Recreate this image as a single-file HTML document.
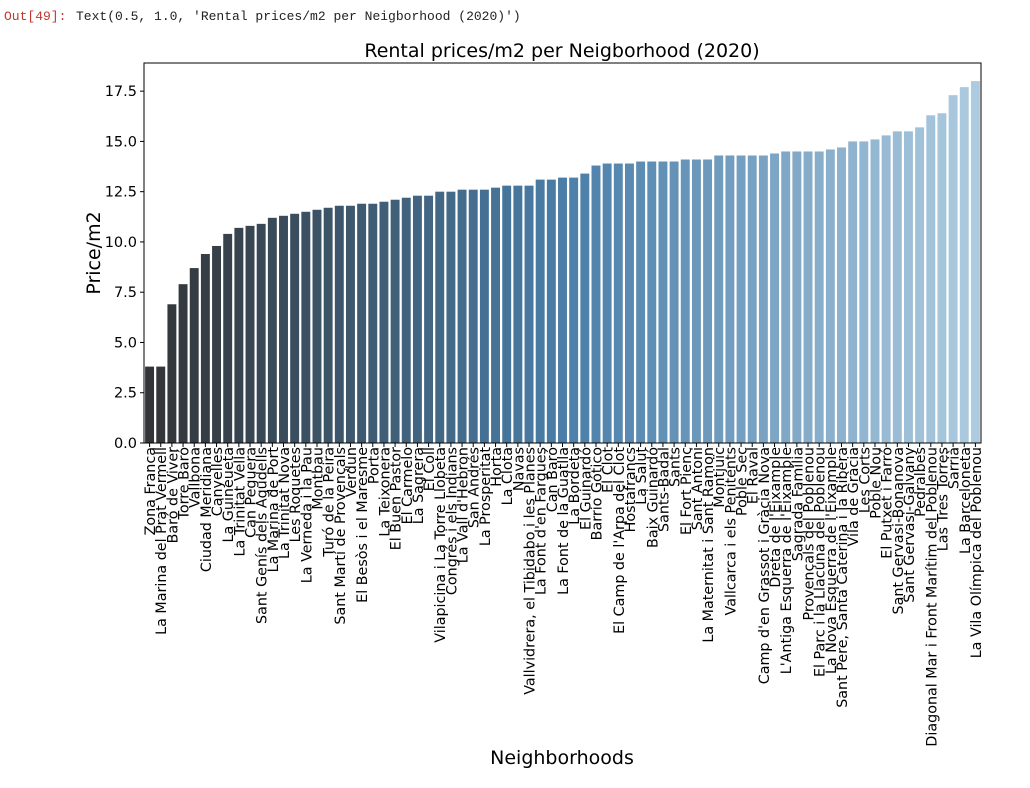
<!DOCTYPE html>
<html><head><meta charset="utf-8"><style>
html,body{margin:0;padding:0;background:#fff;width:1030px;height:788px;overflow:hidden}
svg{display:block}
</style></head><body>
<svg id="chart" width="1030" height="788" xmlns="http://www.w3.org/2000/svg">
<text x="4" y="20" font-family="Liberation Mono, monospace" font-size="13" fill="#c0392b">Out[49]:</text>
<text x="76" y="20" font-family="Liberation Mono, monospace" font-size="13" fill="#222">Text(0.5, 1.0, 'Rental prices/m2 per Neigborhood (2020)')</text>
<text x="562" y="57" text-anchor="middle" font-family="DejaVu Sans, sans-serif" font-size="19" fill="#000">Rental prices/m2 per Neigborhood (2020)</text>
<text transform="translate(100,253) rotate(-90)" text-anchor="middle" font-family="DejaVu Sans, sans-serif" font-size="19" fill="#000">Price/m2</text>
<text x="562" y="764" text-anchor="middle" font-family="DejaVu Sans, sans-serif" font-size="19" fill="#000">Neighborhoods</text>
<g id="bars"></g>
<g id="yaxis"></g>
<g id="xaxis"></g>
<rect x="144" y="63" width="837" height="380" fill="none" stroke="#000" stroke-width="1"/>
</svg>
<script>
const categories = ["Zona Franca","La Marina del Prat Vermell","Baró de Viver","Torre Baró","Vallbona","Ciudad Meridiana","Canyelles","La Guineueta","La Trinitat Vella","Can Peguera","Sant Genís dels Agudells","La Marina de Port","La Trinitat Nova","Les Roquetes","La Verneda i la Pau","Montbau","Turó de la Peira","Sant Martí de Provençals","Verdun","El Besòs i el Maresme","Porta","La Teixonera","El Buen Pastor","El Carmelo","La Sagrera","El Coll","Vilapicina i La Torre Llobeta","Congrés i els Indians","La Vall d'Hebron","San Andrés","La Prosperitat","Horta","La Clota","Navas","Vallvidrera, el Tibidabo i les Planes","La Font d'en Fargues","Can Baró","La Font de la Guatlla","La Bordeta","El Guinardó","Barrio Gótico","El Clot","El Camp de l'Arpa del Clot","Hostafrancs","La Salut","Baix Guinardó","Sants-Badal","Sants","El Fort Pienc","Sant Antoni","La Maternitat i Sant Ramon","Montjuïc","Vallcarca i els Penitents","Poble Sec","El Raval","Camp d'en Grassot i Gràcia Nova","Dreta de l'Eixample","L'Antiga Esquerra de l'Eixample","Sagrada Família","Provençals del Poblenou","El Parc i la Llacuna del Poblenou","La Nova Esquerra de l'Eixample","Sant Pere, Santa Caterina i la Ribera","Vila de Gràcia","Les Corts","Poble Nou","El Putxet i Farró","Sant Gervasi-Bonanova","Sant Gervasi-Galvany","Pedralbes","Diagonal Mar i Front Marítim del Poblenou","Las Tres Torres","Sarrià","La Barceloneta","La Vila Olímpica del Poblenou"];
const prices = [3.8,3.8,6.9,7.9,8.7,9.4,9.8,10.4,10.7,10.8,10.9,11.2,11.3,11.4,11.5,11.6,11.7,11.8,11.8,11.9,11.9,12.0,12.1,12.2,12.3,12.3,12.5,12.5,12.6,12.6,12.6,12.7,12.8,12.8,12.8,13.1,13.1,13.2,13.2,13.4,13.8,13.9,13.9,13.9,14.0,14.0,14.0,14.0,14.1,14.1,14.1,14.3,14.3,14.3,14.3,14.3,14.4,14.5,14.5,14.5,14.5,14.6,14.7,15.0,15.0,15.1,15.3,15.5,15.5,15.7,16.3,16.4,17.3,17.7,18.0];
const yTicks = [0,2.5,5,7.5,10,12.5,15,17.5];
const yTickLabels = ["0.0","2.5","5.0","7.5","10.0","12.5","15.0","17.5"];

const NS="http://www.w3.org/2000/svg";
const L=144,R=981,T=63,B=443,YMAX=18.9;
const step=(R-L)/categories.length;
function xPos(i){return L+i*step;}
function yPos(v){return B-(v/YMAX)*(B-T);}
const stops=[[0,[50,52,55]],[0.5,[74,126,168]],[1,[173,203,224]]];
function color(t){
  let a=stops[0],b=stops[1];
  if(t>0.5){a=stops[1];b=stops[2];}
  const u=(t-a[0])/(b[0]-a[0]);
  const c=a[1].map((v,k)=>Math.round(v+(b[1][k]-v)*u));
  return `rgb(${c[0]},${c[1]},${c[2]})`;
}
const gb=document.getElementById('bars');
const gx=document.getElementById('xaxis');
const gy=document.getElementById('yaxis');
prices.forEach((v,i)=>{
  const r=document.createElementNS(NS,'rect');
  const x=xPos(i)+step*0.1;
  r.setAttribute('x',x);
  r.setAttribute('width',step*0.8);
  r.setAttribute('y',yPos(v));
  r.setAttribute('height',B-yPos(v));
  r.setAttribute('fill',color(i/(prices.length-1)));
  
  
  gb.appendChild(r);
  const cx=xPos(i)+step/2;
  const tk=document.createElementNS(NS,'line');
  tk.setAttribute('x1',cx);tk.setAttribute('x2',cx);
  tk.setAttribute('y1',B);tk.setAttribute('y2',B+4);
  tk.setAttribute('stroke','#000');
  
  
  gx.appendChild(tk);
  const t=document.createElementNS(NS,'text');
  t.setAttribute('transform',`translate(${cx+5.5},447) rotate(-90)`);
  t.setAttribute('text-anchor','end');
  t.setAttribute('font-family','DejaVu Sans, sans-serif');
  t.setAttribute('font-size','14.3');
  t.textContent=categories[i];
  
  
  gx.appendChild(t);
});
yTicks.forEach((v,i)=>{
  const y=yPos(v);
  const tk=document.createElementNS(NS,'line');
  tk.setAttribute('x1',L-4);tk.setAttribute('x2',L);
  tk.setAttribute('y1',y);tk.setAttribute('y2',y);
  tk.setAttribute('stroke','#000');
  
  
  gy.appendChild(tk);
  const t=document.createElementNS(NS,'text');
  t.setAttribute('x',L-7);t.setAttribute('y',y+5);
  t.setAttribute('text-anchor','end');
  t.setAttribute('font-family','DejaVu Sans, sans-serif');
  t.setAttribute('font-size','14.5');
  t.textContent=yTickLabels[i];
  
  
  gy.appendChild(t);
});
</script>
</body></html>
